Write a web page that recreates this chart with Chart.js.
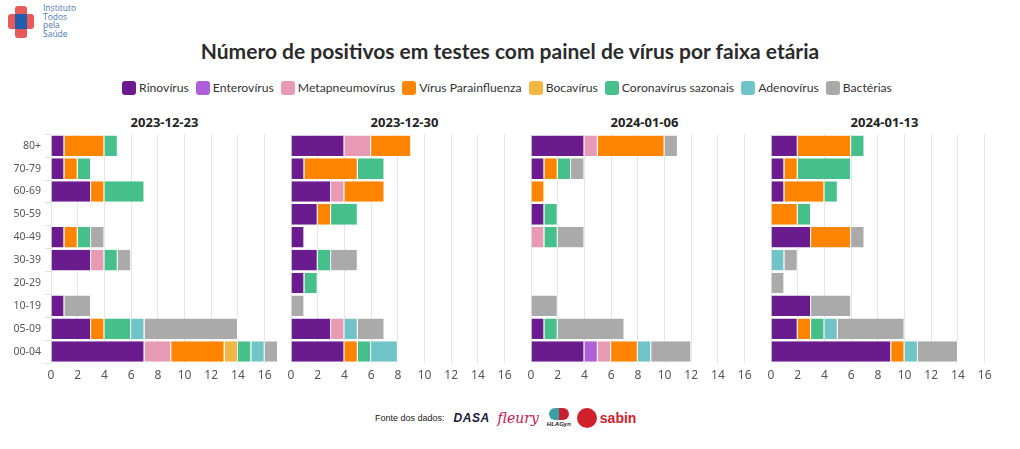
<!DOCTYPE html>
<html>
<head>
<meta charset="utf-8">
<script src="https://cdn.jsdelivr.net/npm/chart.js@4/dist/chart.umd.min.js"></script>
<style>
  body { margin: 0; background: #fff; }
  #wrap { position: relative; width: 1020px; height: 449px; overflow: hidden; font-family: Lato, "Noto Sans", sans-serif; }
  .panel { position: absolute; top: 124px; width: 280px; height: 263px; }
  .ptitle { position: absolute; top: 113px; font-weight: bold; font-size: 13px; color: #222; text-align: center; width: 227px; font-family: "Noto Sans", sans-serif; }
  #title { position: absolute; top: 38px; left: 0; width: 1020px; text-align: center; font-size: 21px; font-weight: bold; color: #2b2b2b; }
  #legend { position: absolute; top: 80px; left: 0; width: 1014px; display: flex; justify-content: center; gap: 7px; font-size: 12.2px; color: #333; }
  #legend span.item { display: flex; align-items: center; }
  #legend i { display: inline-block; width: 14px; height: 14px; border-radius: 3px; margin-right: 3px; }
  #logo { position: absolute; left: 8px; top: 6px; width: 26px; height: 32px; }
  #logo .v { position: absolute; left: 7px; top: 0; width: 12px; height: 32px; background: #e85a5a; border-radius: 3px; }
  #logo .h { position: absolute; left: 0; top: 8px; width: 26px; height: 15px; background: #e85a5a; border-radius: 3px; }
  #logo .c { position: absolute; left: 7px; top: 8px; width: 12px; height: 15px; background: #1f5fae; }
  #logotext { position: absolute; left: 43px; top: 4px; font-size: 8.5px; line-height: 8.5px; color: #4a78b8; font-family: "Open Sans", sans-serif; }
  #footer { position: absolute; top: 408px; left: 375px; display: flex; align-items: center; font-family: "Liberation Sans", Arial, sans-serif; }
  #footer .src { font-size: 9px; color: #222; margin-right: 9px; }
  #footer .dasa { font-size: 12px; font-weight: bold; letter-spacing: 0.5px; color: #1a1a3a; font-style: italic; margin-right: 8px; }
  #footer .fleury { font-size: 14px; font-style: italic; color: #c8164d; font-family: "DejaVu Serif", serif; margin-right: 8px; }
  #footer .hla { font-size: 6px; font-weight: bold; font-style: italic; color: #222; margin-right: 6px; text-align: center; line-height: 7px; }
  #footer .hla b { display: block; width: 20px; height: 12px; margin: 0 auto 1px; border-radius: 6px; background: linear-gradient(90deg, #3aa0a8 50%, #c82030 50%); }
  #footer .sabin { display: flex; align-items: center; color: #d2202a; font-size: 14px; font-weight: bold; }
  #footer .sabin b { display: inline-block; width: 20px; height: 20px; border-radius: 10px; background: #d2202a; margin-right: 3px; }
</style>
</head>
<body>
<div id="wrap">
  <div id="logo"><div class="v"></div><div class="h"></div><div class="c"></div></div>
  <div id="logotext">Instituto<br>Todos<br>pela<br>Saúde</div>
  <div id="title">Número de positivos em testes com painel de vírus por faixa etária</div>
  <div id="legend"></div>
  <div id="footer">
    <span class="src">Fonte dos dados:</span>
    <span class="dasa">DASA</span>
    <span class="fleury">fleury</span>
    <span class="hla"><b></b>HLAGyn</span>
    <span class="sabin"><b></b>sabin</span>
  </div>
</div>
<script>
// Faixas etárias (de cima para baixo) e semanas
const faixas = ['80+', '70-79', '60-69', '50-59', '40-49', '30-39', '20-29', '10-19', '05-09', '00-04'];
const semanas = ['2023-12-23', '2023-12-30', '2024-01-06', '2024-01-13'];
const patogenos = ['Rinovírus', 'Enterovírus', 'Metapneumovírus', 'Vírus Parainfluenza', 'Bocavírus', 'Coronavírus sazonais', 'Adenovírus', 'Bactérias'];
const cores = ['#6a1c8f', '#af5fd9', '#e899b4', '#ff8500', '#f2b643', '#45c08b', '#70c4c7', '#aaaaaa'];
const xTicks = [0, 2, 4, 6, 8, 10, 12, 14, 16];

// Uma linha por semana, na ordem de semanas
const rinovirus = [
  [1, 1, 3, 0, 1, 3, 0, 1, 3, 7],
  [4, 1, 3, 2, 1, 2, 1, 0, 3, 4],
  [4, 1, 0, 1, 0, 0, 0, 0, 1, 4],
  [2, 1, 1, 0, 3, 0, 0, 3, 2, 9]
];
const enterovirus = [
  [0, 0, 0, 0, 0, 0, 0, 0, 0, 0],
  [0, 0, 0, 0, 0, 0, 0, 0, 0, 0],
  [0, 0, 0, 0, 0, 0, 0, 0, 0, 1],
  [0, 0, 0, 0, 0, 0, 0, 0, 0, 0]
];
const metapneumovirus = [
  [0, 0, 0, 0, 0, 1, 0, 0, 0, 2],
  [2, 0, 1, 0, 0, 0, 0, 0, 1, 0],
  [1, 0, 0, 0, 1, 0, 0, 0, 0, 1],
  [0, 0, 0, 0, 0, 0, 0, 0, 0, 0]
];
const parainfluenza = [
  [3, 1, 1, 0, 1, 0, 0, 0, 1, 4],
  [3, 4, 3, 1, 0, 0, 0, 0, 0, 1],
  [5, 1, 1, 0, 0, 0, 0, 0, 0, 2],
  [4, 1, 3, 2, 3, 0, 0, 0, 1, 1]
];
const bocavirus = [
  [0, 0, 0, 0, 0, 0, 0, 0, 0, 1],
  [0, 0, 0, 0, 0, 0, 0, 0, 0, 0],
  [0, 0, 0, 0, 0, 0, 0, 0, 0, 0],
  [0, 0, 0, 0, 0, 0, 0, 0, 0, 0]
];
const coronavirus = [
  [1, 1, 3, 0, 1, 1, 0, 0, 2, 1],
  [0, 2, 0, 2, 0, 1, 1, 0, 0, 1],
  [0, 1, 0, 1, 1, 0, 0, 0, 1, 0],
  [1, 4, 1, 1, 0, 0, 0, 0, 1, 0]
];
const adenovirus = [
  [0, 0, 0, 0, 0, 0, 0, 0, 1, 1],
  [0, 0, 0, 0, 0, 0, 0, 0, 1, 2],
  [0, 0, 0, 0, 0, 0, 0, 0, 0, 1],
  [0, 0, 0, 0, 0, 1, 0, 0, 1, 1]
];
const bacterias = [
  [0, 0, 0, 0, 1, 1, 0, 2, 7, 1],
  [0, 0, 0, 0, 0, 2, 0, 1, 2, 0],
  [1, 1, 0, 0, 2, 0, 0, 2, 5, 3],
  [0, 0, 0, 0, 1, 1, 1, 3, 5, 3]
];
const series = [rinovirus, enterovirus, metapneumovirus, parainfluenza, bocavirus, coronavirus, adenovirus, bacterias];

// Legenda em HTML
const legend = document.getElementById('legend');
patogenos.forEach((nome, k) => {
  const s = document.createElement('span');
  s.className = 'item';
  s.innerHTML = '<i style="background:' + cores[k] + '"></i>' + nome;
  legend.appendChild(s);
});

const wrap = document.getElementById('wrap');
semanas.forEach((semana, i) => {
  const t = document.createElement('div');
  t.className = 'ptitle';
  t.style.left = (51 + 240 * i) + 'px';
  t.textContent = semana;
  wrap.appendChild(t);

  const box = document.createElement('div');
  box.className = 'panel';
  box.style.left = (1 + 240 * i) + 'px';
  const cv = document.createElement('canvas');
  box.appendChild(cv);
  wrap.appendChild(box);

  new Chart(cv.getContext('2d'), {
    type: 'bar',
    data: {
      labels: faixas,
      datasets: patogenos.map((nome, k) => ({
        label: nome,
        data: series[k][i],
        backgroundColor: cores[k],
        borderColor: '#ffffff',
        borderWidth: { right: 1, left: 0, top: 0, bottom: 0 },
        borderSkipped: false,
        barPercentage: 0.9,
        categoryPercentage: 1
      }))
    },
    options: {
      indexAxis: 'y',
      responsive: true,
      maintainAspectRatio: false,
      animation: false,
      layout: { padding: { right: 3 } },
      plugins: { legend: { display: false }, tooltip: { enabled: false } },
      scales: {
        x: {
          stacked: true,
          min: 0,
          max: 17,
          afterFit: s => { s.height = 24; },
          afterBuildTicks: s => { s.ticks = xTicks.map(v => ({ value: v })); },
          grid: { color: '#e6e6e6', drawTicks: false },
          border: { display: false },
          ticks: { color: '#555', font: { family: 'Noto Sans', size: 12 }, padding: 5 }
        },
        y: {
          stacked: true,
          afterFit: s => { s.width = 50; },
          grid: { drawOnChartArea: false, tickLength: 6, color: i === 0 ? '#e0e0e0' : 'rgba(0,0,0,0)' },
          border: { display: false },
          // rótulos só no primeiro painel; nos outros ficam transparentes para manter o mesmo layout
          ticks: { color: i === 0 ? '#555' : 'rgba(0,0,0,0)', font: { family: 'Noto Sans', size: 10.5 }, padding: 4 }
        }
      }
    }
  });
});
</script>
</body>
</html>
